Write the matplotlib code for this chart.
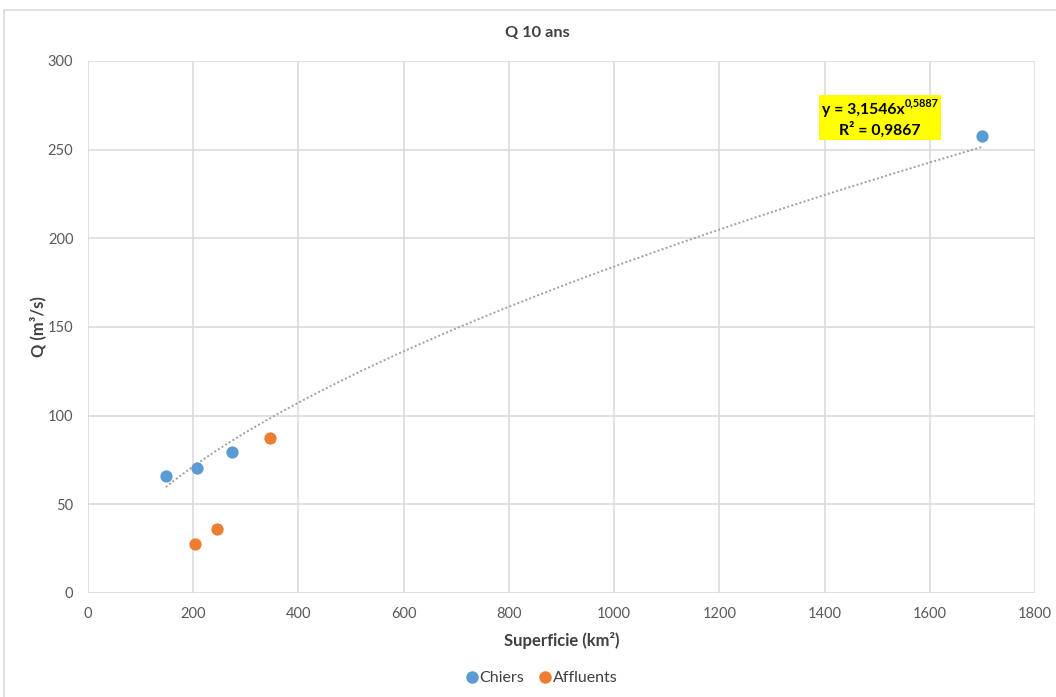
import numpy as np
import matplotlib
matplotlib.use("Agg")
import matplotlib.pyplot as plt
from matplotlib.patches import Rectangle
from matplotlib.lines import Line2D

plt.rcParams['font.family'] = ['Lato', 'DejaVu Sans']

# Catchment area (km²) and 10-year flood discharge (m³/s)
chiers_area = [148, 208, 273, 1700]
chiers_q = [66.0, 70.5, 79.3, 257.5]
affluents_area = [204, 245, 346]
affluents_q = [27.5, 36.3, 87.6]

# Power-law trend fitted on the Chiers series
trend_a = 3.1546
trend_b = 0.5887
trend_r2 = 0.9867

x_ticks = [0, 200, 400, 600, 800, 1000, 1200, 1400, 1600, 1800]
y_ticks = [0, 50, 100, 150, 200, 250, 300]

BLUE = '#5B9BD5'
ORANGE = '#ED7D31'
GRID = '#d9d9d9'
TICK = '#595959'
TEXT = '#404040'

W, H = 1056, 697
fig = plt.figure(figsize=(W / 100, H / 100), dpi=100)

# Chart area frame
fig.patches.append(Rectangle((4 / W, -0.05), 1.2, 1 - 10 / H + 0.05,
                             transform=fig.transFigure, fill=False,
                             edgecolor=GRID, linewidth=1.2))

ax = fig.add_axes([88 / W, 1 - 593 / H, (1035 - 88) / W, (593 - 61) / H])
ax.set_xlim(0, 1800)
ax.set_ylim(0, 300)
ax.set_xticks(x_ticks)
ax.set_yticks(y_ticks)
ax.grid(True, color=GRID, linewidth=1.1)
ax.set_axisbelow(True)
for s in ax.spines.values():
    s.set_visible(False)
ax.tick_params(length=0, labelsize=10.5, labelcolor=TICK)
ax.tick_params(axis='y', pad=10.5)
ax.tick_params(axis='x', pad=10)

# Trend line over the Chiers range
xt = np.linspace(min(chiers_area), max(chiers_area), 300)
ax.plot(xt, trend_a * xt ** trend_b, color='#a0a0a0', linewidth=1.4,
        linestyle=(0, (1, 1.2)), zorder=2)

ax.scatter(chiers_area, chiers_q, s=78, color=BLUE, zorder=3, linewidths=0)
ax.scatter(affluents_area, affluents_q, s=78, color=ORANGE, zorder=3, linewidths=0)

# Equation box
ax.add_patch(Rectangle((0.772, 0.851), 0.129, 0.085, transform=ax.transAxes,
                       facecolor='#FFFF00', edgecolor='none', zorder=4))
eq_main = ax.text(0.7755, 0.908, 'y = 3,1546x', transform=ax.transAxes,
                  fontsize=11.3, fontweight='bold', ha='left', va='center',
                  color='black', zorder=5)
ax.annotate('0,5887', xy=(1, 0.6), xycoords=eq_main, fontsize=7.8,
            fontweight='bold', ha='left', va='bottom', color='black', zorder=5)
ax.text(0.836, 0.871, 'R² = 0,9867', transform=ax.transAxes,
        fontsize=11.3, fontweight='bold', ha='center', va='center',
        color='black', zorder=5)

ax.set_xlabel('Superficie (km²)', fontsize=12, fontweight='bold',
              color=TEXT, labelpad=8)
ax.set_ylabel('Q (m³/s)', fontsize=12, fontweight='bold',
              color=TEXT, labelpad=1)

fig.text(537 / W, 1 - 33 / H, 'Q 10 ans', fontsize=11.8, fontweight='bold',
         color=TEXT, ha='center', va='center')

handles = [Line2D([], [], marker='o', linestyle='none', markersize=9,
                  markerfacecolor=BLUE, markeredgecolor='none', label='Chiers'),
           Line2D([], [], marker='o', linestyle='none', markersize=9,
                  markerfacecolor=ORANGE, markeredgecolor='none', label='Affluents')]
fig.legend(handles=handles, loc='center', bbox_to_anchor=(541 / W, 1 - 678 / H),
           ncol=2, frameon=False, fontsize=11.5, handletextpad=0.0,
           columnspacing=0.9, handlelength=0.9, labelcolor=TEXT)

fig.savefig('out.png', dpi=100)
